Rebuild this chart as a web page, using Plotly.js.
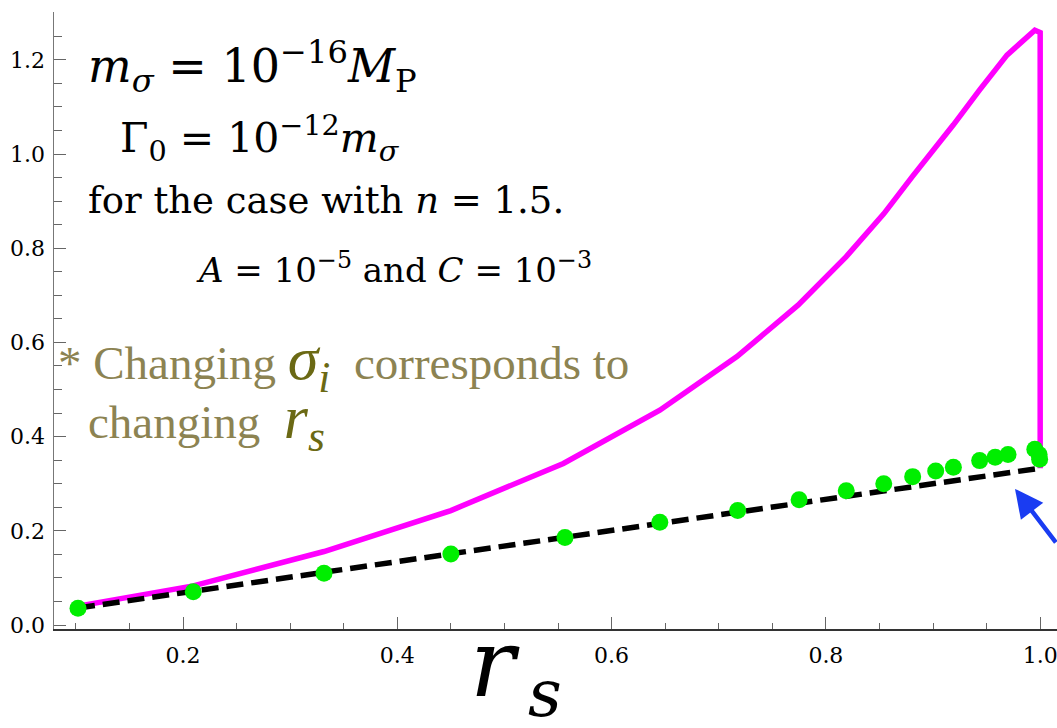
<!DOCTYPE html>
<html>
<head>
<meta charset="utf-8">
<script src="https://cdn.plot.ly/plotly-3.0.1.min.js"></script>
<style>html,body{margin:0;padding:0;background:#fff;}#chart{width:1057px;height:728px;}</style>
</head>
<body>
<div id="chart"></div>
<script>
// ---- data ----
const dotRs = [0.102, 0.2096, 0.3316, 0.450, 0.5565, 0.645, 0.7177, 0.775, 0.819, 0.854, 0.881, 0.9025, 0.919, 0.9435, 0.958, 0.970, 0.995, 0.999, 0.9995];
const dotVals = [0.0355, 0.0707, 0.1098, 0.1507, 0.186, 0.218, 0.243, 0.266, 0.285, 0.300, 0.315, 0.327, 0.335, 0.349, 0.356, 0.362, 0.373, 0.362, 0.352];

const curveRs = [0.102, 0.2096, 0.3316, 0.450, 0.555, 0.645, 0.717, 0.774, 0.819, 0.854, 0.881, 0.9025, 0.919, 0.9435, 0.958, 0.969, 0.995, 1.0, 1.0];
const curveVals = [0.040, 0.083, 0.156, 0.243, 0.343, 0.456, 0.570, 0.679, 0.782, 0.873, 0.953, 1.013, 1.062, 1.136, 1.180, 1.210, 1.263, 1.258, 0.333];

const lineRs = [0.102, 1.0];
const lineVals = [0.036, 0.333];

const xTickVals = [0.2, 0.4, 0.6, 0.8, 1.0];
const xTickText = ["0.2", "0.4", "0.6", "0.8", "1.0"];
const yTickVals = [0.0, 0.2, 0.4, 0.6, 0.8, 1.0, 1.2];
const yTickText = ["0.0", "0.2", "0.4", "0.6", "0.8", "1.0", "1.2"];

// ---- layout helpers ----
const W = 1057, H = 728;
const M = {l: 54, r: 0, t: 12, b: 99};
const PW = W - M.l - M.r, PH = H - M.t - M.b;
function px(x) { return (x - M.l) / PW; }
function py(y) { return (H - M.b - y) / PH; }

const XR = [0.0796, 1.0157];
const YR = [-0.0085, 1.3015];

const serif = "DejaVu Serif";
const tickGray = "#666";

const traces = [
  {x: curveRs, y: curveVals, type: "scatter", mode: "lines",
   line: {color: "#ff00ff", width: 5.5}, hoverinfo: "skip"},
  {x: lineRs, y: lineVals, type: "scatter", mode: "lines",
   line: {color: "#000", width: 5.5, dash: "17px,8px"}, hoverinfo: "skip"},
  {x: dotRs, y: dotVals, type: "scatter", mode: "markers",
   marker: {color: "#00ee00", size: 17, line: {width: 0}}, hoverinfo: "skip"}
];

const mathFont = {family: serif, size: 46, color: "#000"};
const olive = "#8c8352";

const annotations = [
  {xref: "paper", yref: "paper", x: px(86), y: py(66), xanchor: "left", yanchor: "middle", showarrow: false,
   text: "<i>m</i><sub><i>σ</i></sub> = 10<sup>−16</sup><i>M</i><sub>P</sub>", font: mathFont},
  {xref: "paper", yref: "paper", x: px(118), y: py(138), xanchor: "left", yanchor: "middle", showarrow: false,
   text: "Γ<sub>0</sub> = 10<sup>−12</sup><i>m</i><sub><i>σ</i></sub>", font: {family: serif, size: 41, color: "#000"}},
  {xref: "paper", yref: "paper", x: px(86), y: py(200), xanchor: "left", yanchor: "middle", showarrow: false,
   text: "for the case with <i>n</i> = 1.5.", font: {family: serif, size: 37, color: "#000"}},
  {xref: "paper", yref: "paper", x: px(194), y: py(268), xanchor: "left", yanchor: "middle", showarrow: false,
   text: "<i>A</i> = 10<sup>−5</sup> and <i>C</i> = 10<sup>−3</sup>", font: {family: serif, size: 34, color: "#000"}},
  {xref: "paper", yref: "paper", x: px(56), y: py(362), xanchor: "left", yanchor: "middle", showarrow: false,
   text: "* Changing <span style='font-size:62px;color:#6b6914'><i>σ</i><sub><i>i</i></sub></span>\u00a0 corresponds to",
   font: {family: "Liberation Serif", size: 47, color: olive}},
  {xref: "paper", yref: "paper", x: px(86), y: py(421), xanchor: "left", yanchor: "middle", showarrow: false,
   text: "changing\u00a0 <span style='font-size:62px;color:#6b6914'><i>r</i><sub><i>s</i></sub></span>",
   font: {family: "Liberation Serif", size: 47, color: olive}},
  {xref: "paper", yref: "paper", x: px(468), y: py(671), xanchor: "left", yanchor: "middle", showarrow: false,
   text: "<i>r</i><sub>\u2009<i>s</i></sub>", font: {family: serif, size: 94, color: "#000"}},
  {xref: "x", yref: "y", x: 0.9765, y: 0.289, ax: 52, ay: 55, axref: "pixel", ayref: "pixel",
   showarrow: true, arrowhead: 2, arrowsize: 1.25, arrowwidth: 4.5, arrowcolor: "#1a3cf2", text: ""}
];

const layout = {
  width: W, height: H,
  margin: M,
  paper_bgcolor: "#fff", plot_bgcolor: "#fff",
  showlegend: false,
  xaxis: {
    range: XR, showgrid: false, zeroline: false,
    showline: true, linecolor: "#333", linewidth: 1.5,
    ticks: "inside", ticklen: 12, tickwidth: 1, tickcolor: tickGray,
    tickvals: xTickVals, ticktext: xTickText,
    tickfont: {family: serif, size: 22, color: "#000"},
    ticklabeloverflow: "allow",
    minor: {dtick: 0.05, tick0: 0, ticks: "inside", ticklen: 6, tickwidth: 1, tickcolor: tickGray, showgrid: false},
    ticklabelstandoff: 6
  },
  yaxis: {
    range: YR, showgrid: false, zeroline: false,
    showline: true, linecolor: "#777", linewidth: 1.5,
    ticks: "inside", ticklen: 12, tickwidth: 1, tickcolor: tickGray,
    tickvals: yTickVals, ticktext: yTickText,
    tickfont: {family: serif, size: 22, color: "#000"},
    ticklabeloverflow: "allow",
    minor: {dtick: 0.05, tick0: 0, ticks: "inside", ticklen: 8, tickwidth: 1, tickcolor: tickGray, showgrid: false},
    ticklabelstandoff: 3
  },
  xaxis2: {
    overlaying: "x", side: "top", anchor: "y", range: XR,
    showgrid: false, zeroline: false, showline: false, showticklabels: false,
    ticks: "inside", ticklen: 10, tickwidth: 1, tickcolor: tickGray,
    tickvals: xTickVals,
    minor: {dtick: 0.05, tick0: 0, ticks: "inside", ticklen: 5, tickwidth: 1, tickcolor: tickGray, showgrid: false}
  },
  yaxis2: {
    overlaying: "y", side: "right", anchor: "x", range: YR,
    showgrid: false, zeroline: false, showline: false, showticklabels: false,
    ticks: "inside", ticklen: 10, tickwidth: 1, tickcolor: tickGray,
    tickvals: yTickVals,
    minor: {dtick: 0.05, tick0: 0, ticks: "inside", ticklen: 5, tickwidth: 1, tickcolor: tickGray, showgrid: false}
  },
  annotations: annotations
};

Plotly.newPlot("chart", traces, layout, {staticPlot: true, displayModeBar: false});
</script>
</body>
</html>
